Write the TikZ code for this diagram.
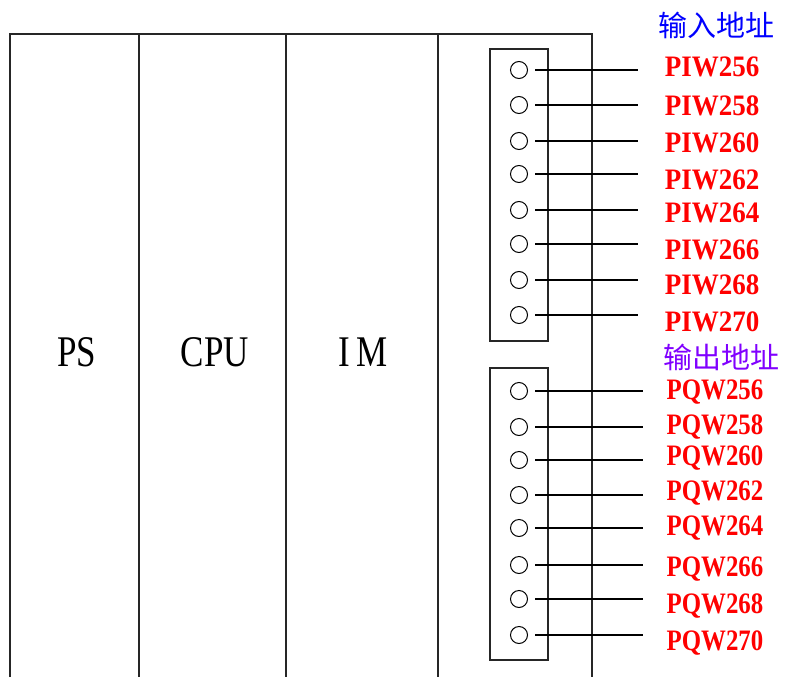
\documentclass[tikz,border=0pt]{standalone}
\usepackage{fontspec}
\setmainfont{Liberation Serif}
\newfontfamily\cjkfont{Noto Sans CJK SC}
\definecolor{addrred}{RGB}{255, 0, 0}
\definecolor{inblue}{RGB}{0, 0, 255}
\definecolor{outviolet}{RGB}{128, 0, 255}
\usetikzlibrary{positioning}
\newcommand{\tallText}[3]{\scalebox{#1}[#2]{#3}}

\tikzset{
  frame/.style={line width=1.2pt, black!85},
  module/.style={inner sep=0pt, font=\fontsize{35}{38}\selectfont},
  pin/.style={circle, draw, line width=1pt, minimum size=17pt, inner sep=0pt},
  wire/.style={line width=1.1pt},
  addr/.style={inner sep=0pt, text=addrred, font=\fontsize{27}{30}\selectfont\bfseries},
  title/.style={inner sep=0pt, font=\fontsize{29}{32}\selectfont\cjkfont}
}

\begin{document}
\begin{tikzpicture}[x=1pt, y=-1pt]
        \useasboundingbox (0,0) rectangle (789,677);

        % rack
        \draw[frame] (10,677) -- (10,34) -- (592,34) -- (592,677);
        \draw[frame] (139,34) -- (139,677);
        \draw[frame] (286,34) -- (286,677);
        \draw[frame] (438,34) -- (438,677);

        \node[module] (ps) at (77,352) {\tallText{1}{1.25}{PS}};
        \node[module] (cpu) at (215,352) {\tallText{1}{1.25}{CPU}};
        \node[module] (im) at (363,352) {\tallText{1}{1.25}{I\,M}};

        % terminal blocks
        \draw[frame] (490,49) rectangle (548,341);
        \draw[frame] (490,368) rectangle (548,660);

        \node[title, text=inblue] (intitle) at (716,25) {输入地址};
        \node[title, text=outviolet] (outtitle) at (721,357) {输出地址};

        \foreach \n/\cy/\ty in {256/70/67, 258/105/106, 260/141/143, 262/174/180,
                                264/210/213, 266/244/250, 268/280/285, 270/315/322} {
          \node[pin] (in\n) at (519,\cy) {};
          \coordinate (inend\n) at (638,\cy);
          \draw[wire] ([xshift=7pt]in\n.east) -- (inend\n);
          \node[addr] (piw\n) at (712,\ty) {\tallText{1}{1.1}{PIW\n}};
        }

        \foreach \n/\cy/\ty in {256/391/392, 258/427/427, 260/460/458, 262/495/493,
                                264/528/528, 266/565/569, 268/599/606, 270/635/643} {
          \node[pin] (out\n) at (519,\cy) {};
          \coordinate (outend\n) at (643,\cy);
          \draw[wire] ([xshift=7pt]out\n.east) -- (outend\n);
          \node[addr] (pqw\n) at (715,\ty) {\tallText{0.92}{1.1}{PQW\n}};
        }
      \end{tikzpicture}
\end{document}
